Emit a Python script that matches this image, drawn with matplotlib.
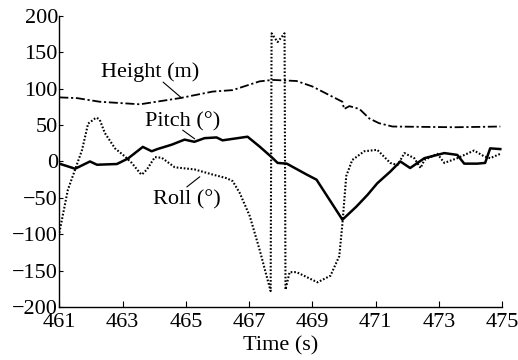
import matplotlib
matplotlib.use("Agg")
import matplotlib.pyplot as plt

plt.rcParams['font.family'] = ['Liberation Serif', 'DejaVu Serif']
plt.rcParams['font.size'] = 16

# height (m), dash-dot line
height_t = [461.0, 461.56, 462.28, 463.55, 464.81, 465.85, 466.48, 467.33, 467.74,
            468.5, 469.0, 469.63, 469.95, 470.0, 470.17, 470.49, 470.8, 471.11,
            471.53, 472.5, 473.5, 474.3, 474.94]
height_v = [88, 87, 82, 78.5, 87, 96, 98, 110, 112,
            110.5, 103, 89, 82, 72, 76, 72, 59, 52.5,
            48, 47.5, 47, 47.5, 48]

# pitch (deg), solid line
pitch_t = [461.0, 461.43, 461.5, 461.97, 462.19, 462.82, 463.17, 463.64, 463.92,
           464.1, 464.55, 464.96, 465.27, 465.59, 465.97, 466.16, 466.95, 467.33,
           467.71, 467.9, 468.19, 468.82, 469.13, 469.95, 470.39, 470.74, 471.05,
           471.46, 471.78, 472.09, 472.54, 473.17, 473.58, 473.8, 474.21, 474.46,
           474.62, 474.94]
pitch_v = [-3, -9, -10, 0, -4.5, -3.5, 4, 20, 14,
           17, 23, 30, 27, 32, 33, 29, 34, 20.5,
           6, -2, -3, -18, -25, -80, -62, -46, -30,
           -14, 0, -9, 4.5, 11.5, 9, -3, -3, -2,
           18, 17]

# roll (deg), dotted line
roll_t = [461.0, 461.27, 461.5, 461.72, 461.91, 462.13, 462.19, 462.28, 462.44,
          462.76, 463.07, 463.29, 463.55, 463.61, 463.77, 464.02, 464.24, 464.65,
          465.28, 465.85, 466.29, 466.48, 466.7, 467.02, 467.33, 467.55, 467.68,
          467.71, 467.9, 468.12, 468.15, 468.28, 468.5, 469.16, 469.57, 469.85,
          469.95, 470.07, 470.26, 470.64, 471.05, 471.46, 471.69, 471.91, 472.22,
          472.42, 472.54, 472.95, 473.17, 473.58, 474.11, 474.43, 474.62, 474.94]
roll_v = [-98, -39, -11, 16, 52, 59, 60, 57, 39,
          18, 7, -2, -16, -18, -11, 6, 5, -8,
          -11, -18, -23, -27, -43, -75, -121, -157, -178,
          176, 164, 176, -176, -152, -152, -166, -157, -130,
          -85, -20, 2, 14, 16, -2, -5, 11.5, 4.5,
          -9, 2, 10.5, -2, 4.5, 15, 7, 4.5, 10.5]

xticks = [461, 463, 465, 467, 469, 471, 473, 475]
yticks = [-200, -150, -100, -50, 0, 50, 100, 150, 200]

fig = plt.figure(figsize=(5.18, 3.6), dpi=100)
ax = fig.add_axes([0.1145, 0.147, 0.855, 0.809])

ax.plot(height_t, height_v, color='black', lw=1.3, linestyle=(0, (5, 1.5, 1.2, 1.5)))
ax.plot(pitch_t, pitch_v, color='black', lw=1.8, linestyle='-')
ax.plot(roll_t, roll_v, color='black', lw=1.5, linestyle=(0, (0.8, 0.9)))

ax.set_xlim(461, 475)
ax.set_ylim(-200, 200)
ax.set_xticks(xticks)
ax.set_yticks(yticks)
ax.tick_params(axis='x', direction='in', length=4, width=0.8, pad=4.5)
ax.tick_params(axis='y', direction='in', length=3, width=0.8, pad=1)
ax.spines['top'].set_visible(False)
ax.spines['right'].set_visible(False)
for s in ['left', 'bottom']:
    ax.spines[s].set_linewidth(1.0)
ax.set_xlabel('Time (s)', labelpad=3)

# curve labels
ax.text(463.86, 123, 'Height (m)', ha='center', va='center')
ax.text(464.89, 55, 'Pitch (°)', ha='center', va='center')
ax.text(465.04, -52, 'Roll (°)', ha='center', va='center')

# leader lines
leader = dict(arrowstyle='-', lw=0.8, color='black', shrinkA=0, shrinkB=0)
ax.annotate('', xy=(464.87, 87), xytext=(464.28, 109), arrowprops=leader)
ax.annotate('', xy=(465.28, 31), xytext=(464.9, 43), arrowprops=leader)
ax.annotate('', xy=(465.44, -21), xytext=(465.03, -35), arrowprops=leader)

fig.savefig('out.png', dpi=100)
